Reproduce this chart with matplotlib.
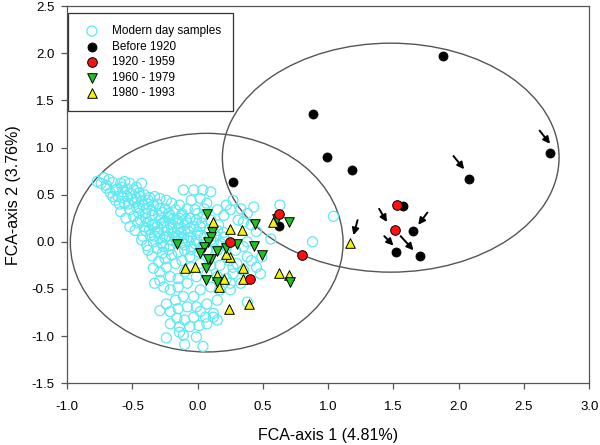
import matplotlib.pyplot as plt
from matplotlib.patches import Ellipse

plt.rcParams['font.family'] = ['Liberation Sans', 'DejaVu Sans']

# Modern day samples (FCA axis 1, FCA axis 2)
modern = [
    (-0.77, 0.64), (-0.72, 0.68), (-0.68, 0.66), (-0.65, 0.63), (-0.70, 0.57), (-0.62, 0.56),
    (-0.59, 0.62), (-0.56, 0.64), (-0.52, 0.62), (-0.57, 0.53), (-0.54, 0.48), (-0.61, 0.48),
    (-0.51, 0.51), (-0.47, 0.58), (-0.43, 0.62), (-0.44, 0.48), (-0.48, 0.42), (-0.56, 0.41),
    (-0.59, 0.32), (-0.52, 0.34), (-0.47, 0.37), (-0.42, 0.39), (-0.38, 0.44), (-0.34, 0.39),
    (-0.40, 0.30), (-0.35, 0.28), (-0.29, 0.46), (-0.29, 0.35), (-0.24, 0.44), (-0.25, 0.35),
    (-0.20, 0.41), (-0.17, 0.34), (-0.21, 0.28), (-0.29, 0.23), (-0.33, 0.18), (-0.38, 0.21),
    (-0.44, 0.23), (-0.52, 0.16), (-0.48, 0.12), (-0.40, 0.12), (-0.36, 0.07), (-0.31, 0.11),
    (-0.26, 0.16), (-0.21, 0.19), (-0.16, 0.23), (-0.12, 0.28), (-0.15, 0.14), (-0.19, 0.09),
    (-0.24, 0.05), (-0.29, 0.04), (-0.34, 0.00), (-0.39, -0.04), (-0.43, 0.02), (-0.38, -0.09),
    (-0.31, -0.07), (-0.26, -0.05), (-0.21, -0.04), (-0.16, 0.00), (-0.11, 0.04), (-0.07, 0.11),
    (-0.03, 0.16), (-0.10, 0.18), (-0.06, 0.25), (-0.02, 0.34), (-0.08, 0.35), (-0.14, 0.39),
    (-0.05, 0.44), (0.02, 0.46), (0.07, 0.41), (-0.01, 0.23), (0.02, 0.16), (0.04, 0.27),
    (0.10, 0.23), (0.15, 0.34), (0.20, 0.28), (0.22, 0.39), (0.27, 0.44), (0.33, 0.35),
    (0.38, 0.30), (0.43, 0.37), (0.35, 0.21), (0.41, 0.18), (0.45, 0.11), (0.15, 0.12),
    (0.20, 0.05), (0.10, 0.02), (0.04, -0.04), (-0.01, 0.02), (-0.05, -0.05), (-0.10, -0.09),
    (-0.15, -0.11), (-0.20, -0.14), (-0.25, -0.18), (-0.30, -0.21), (-0.34, -0.28), (-0.29, -0.32),
    (-0.24, -0.27), (-0.17, -0.23), (-0.12, -0.20), (-0.06, -0.16), (0.01, -0.11), (0.07, -0.09),
    (0.15, -0.09), (0.22, -0.05), (0.29, -0.09), (0.35, -0.05), (0.38, -0.16), (0.30, -0.23),
    (0.24, -0.20), (0.17, -0.25), (0.10, -0.25), (0.02, -0.23), (-0.05, -0.27), (-0.10, -0.32),
    (-0.15, -0.39), (-0.21, -0.37), (-0.29, -0.41), (-0.33, -0.44), (-0.26, -0.48), (-0.21, -0.51),
    (-0.15, -0.48), (-0.08, -0.44), (-0.01, -0.37), (0.07, -0.34), (0.15, -0.37), (0.22, -0.39),
    (0.27, -0.34), (0.35, -0.30), (0.41, -0.20), (0.45, -0.27), (0.33, -0.44), (0.25, -0.51),
    (0.17, -0.51), (0.10, -0.48), (0.02, -0.51), (-0.03, -0.58), (-0.11, -0.58), (-0.17, -0.62),
    (-0.24, -0.66), (-0.29, -0.73), (-0.21, -0.74), (-0.15, -0.71), (-0.08, -0.69), (-0.01, -0.69),
    (0.07, -0.66), (0.15, -0.62), (0.12, -0.76), (0.06, -0.80), (-0.03, -0.80), (-0.10, -0.83),
    (-0.16, -0.81), (-0.21, -0.87), (-0.14, -0.90), (-0.06, -0.90), (0.01, -0.89), (0.07, -0.87),
    (0.15, -0.83), (-0.11, -0.99), (-0.01, -1.01), (-0.24, -1.02), (-0.10, -1.09), (0.04, -1.11),
    (-0.14, -0.96), (-0.11, 0.55), (-0.03, 0.55), (0.04, 0.55), (0.10, 0.53),
    (-0.45, 0.30), (-0.40, 0.25), (-0.35, 0.33), (-0.30, 0.28), (-0.25, 0.22), (-0.20, 0.15),
    (-0.15, 0.20), (-0.10, 0.12), (-0.05, 0.05), (0.00, 0.10), (-0.30, 0.10), (-0.25, 0.05),
    (-0.20, 0.02), (-0.15, 0.06), (-0.10, -0.03), (-0.05, -0.08), (-0.35, 0.18), (-0.42, 0.06),
    (-0.46, 0.20), (-0.55, 0.25), (-0.60, 0.40), (-0.65, 0.48), (-0.70, 0.60), (-0.63, 0.55),
    (-0.50, 0.45), (-0.38, 0.40), (-0.33, 0.48), (-0.22, 0.30), (-0.12, 0.30), (-0.08, 0.20),
    (0.03, 0.20), (-0.02, -0.02), (-0.27, -0.12), (-0.35, -0.15), (-0.22, -0.08), (-0.18, 0.10),
    (0.05, 0.05), (0.12, 0.00), (0.16, 0.18), (0.20, 0.10),
    (-0.58, 0.58), (-0.54, 0.56), (-0.49, 0.55), (-0.45, 0.52), (-0.41, 0.50), (-0.37, 0.47),
    (-0.47, 0.47), (-0.43, 0.43), (-0.39, 0.35), (-0.31, 0.40), (-0.27, 0.31), (-0.23, 0.26),
    (-0.19, 0.24), (-0.14, 0.25), (-0.09, 0.24), (-0.27, 0.20), (-0.31, 0.16), (-0.23, 0.12),
    (-0.13, 0.10), (-0.06, 0.14), (-0.17, 0.04), (-0.12, -0.01), (-0.07, 0.01), (-0.28, -0.01),
    (-0.33, 0.06), (-0.37, 0.13), (-0.41, 0.16), (-0.49, 0.27), (-0.63, 0.44), (-0.67, 0.52),
    (-0.74, 0.62), (-0.58, 0.47), (-0.53, 0.40), (-0.45, 0.36), (0.00, 0.30), (0.05, 0.35),
    (0.09, 0.13), (0.14, 0.06), (0.18, -0.02), (0.02, 0.07),
    (0.63, 0.39), (1.04, 0.27), (0.88, 0.00), (0.56, 0.03), (0.49, -0.16), (0.48, -0.34),
    (0.25, 0.34), (0.31, 0.23), (0.38, 0.00), (0.27, -0.27), (0.38, -0.64), (0.12, -0.80),
    (0.02, -0.74), (0.25, -0.44),
]

before_1920 = [(0.27, 0.63), (0.62, 0.17), (0.88, 1.36), (0.99, 0.90), (1.18, 0.76),
               (1.88, 1.97), (2.70, 0.94), (2.08, 0.67), (1.57, 0.38), (1.65, 0.11),
               (1.52, -0.11), (1.70, -0.15)]

y1920_1959 = [(0.25, 0.00), (0.62, 0.30), (0.80, -0.14), (0.40, -0.39), (1.53, 0.39), (1.51, 0.13)]

y1960_1979 = [(-0.16, -0.02), (0.07, 0.30), (0.11, 0.10), (0.10, 0.05), (0.08, 0.00), (0.05, -0.05),
              (0.02, -0.12), (0.10, -0.18), (0.15, -0.10), (0.22, -0.07), (0.30, -0.02), (0.43, -0.04),
              (0.49, -0.14), (0.44, 0.19), (0.61, 0.24), (0.70, 0.21), (0.06, -0.28), (0.06, -0.41),
              (0.15, -0.43), (0.71, -0.43), (0.08, -0.18)]

y1980_1993 = [(0.12, 0.21), (0.25, 0.14), (0.34, 0.12), (0.58, 0.21), (0.25, -0.16), (0.22, -0.13),
              (-0.10, -0.28), (-0.02, -0.27), (0.15, -0.35), (0.20, -0.40), (0.16, -0.48), (0.35, -0.28),
              (0.35, -0.40), (0.62, -0.33), (0.70, -0.35), (0.24, -0.71), (0.39, -0.66), (1.17, -0.01)]

# arrows: (start, tip)
arrows = [((2.62, 1.18), (2.70, 1.04)), ((1.96, 0.91), (2.042, 0.77)),
          ((1.39, 0.35), (1.45, 0.21)), ((1.76, 0.31), (1.69, 0.18)),
          ((1.43, 0.06), (1.50, -0.04)), ((1.555, 0.06), (1.654, -0.09)),
          ((1.225, 0.23), (1.194, 0.07))]

# ellipses: (centre x, centre y, width, height)
ellipses = [(0.069, -0.009, 2.09, 2.32), (1.479, 0.893, 2.58, 2.43)]

fig = plt.figure(figsize=(6, 4.45), dpi=100)
ax = fig.add_axes([0.112, 0.139, 0.870, 0.847])

for cx, cy, w, h in ellipses:
    ax.add_patch(Ellipse((cx, cy), w, h, fill=False, ec='#555555', lw=1.0, zorder=1))

def xs(p):
    return [a for a, b in p]

def ys(p):
    return [b for a, b in p]

h_mod = ax.scatter(xs(modern), ys(modern), s=52, facecolors='none', edgecolors='#5fe9f2',
                   linewidths=0.9, zorder=2, label='Modern day samples')
h_b = ax.scatter(xs(before_1920), ys(before_1920), s=42, c='black', edgecolors='black',
                 linewidths=0.6, zorder=3, label='Before 1920')
h_y = ax.scatter(xs(y1980_1993), ys(y1980_1993), s=48, marker='^', c='#f2f20a', edgecolors='black',
                 linewidths=0.7, zorder=4, label='1980 - 1993')
h_g = ax.scatter(xs(y1960_1979), ys(y1960_1979), s=48, marker='v', c='#1fc21f', edgecolors='black',
                 linewidths=0.7, zorder=5, label='1960 - 1979')
h_r = ax.scatter(xs(y1920_1959), ys(y1920_1959), s=48, c='#ff1010', edgecolors='black',
                 linewidths=0.7, zorder=6, label='1920 - 1959')

for start, tip in arrows:
    ax.annotate('', xy=tip, xytext=start,
                arrowprops=dict(arrowstyle='-|>', color='black', lw=1.4,
                                mutation_scale=10, shrinkA=0, shrinkB=0), zorder=7)

ax.set_xlim(-1.0, 3.0)
ax.set_ylim(-1.5, 2.5)
ax.set_xticks([-1.0, -0.5, 0.0, 0.5, 1.0, 1.5, 2.0, 2.5, 3.0])
ax.set_yticks([-1.5, -1.0, -0.5, 0.0, 0.5, 1.0, 1.5, 2.0, 2.5])
ax.xaxis.set_major_formatter(plt.FormatStrFormatter('%.1f'))
ax.yaxis.set_major_formatter(plt.FormatStrFormatter('%.1f'))
ax.tick_params(direction='out', length=4, width=0.9, color='#555555', labelsize=9.5)
ax.tick_params(axis='x', pad=9)
ax.tick_params(axis='y', pad=5)
for sp in ax.spines.values():
    sp.set_color('#555555')
    sp.set_linewidth(0.9)

ax.set_xlabel('FCA-axis 1 (4.81%)', fontsize=11.5, labelpad=11)
ax.set_ylabel('FCA-axis 2 (3.76%)', fontsize=11.5, labelpad=8)

leg = ax.legend(handles=[h_mod, h_b, h_r, h_g, h_y], loc='upper left',
                bbox_to_anchor=(0.002, 0.981), borderaxespad=0, fontsize=8.5,
                frameon=True, fancybox=False, framealpha=1, edgecolor='#333333',
                borderpad=1.0, labelspacing=0.3, handlelength=2.0, handletextpad=0.7,
                scatterpoints=1)
leg.get_frame().set_linewidth(0.9)

fig.savefig('out.png', dpi=100)
